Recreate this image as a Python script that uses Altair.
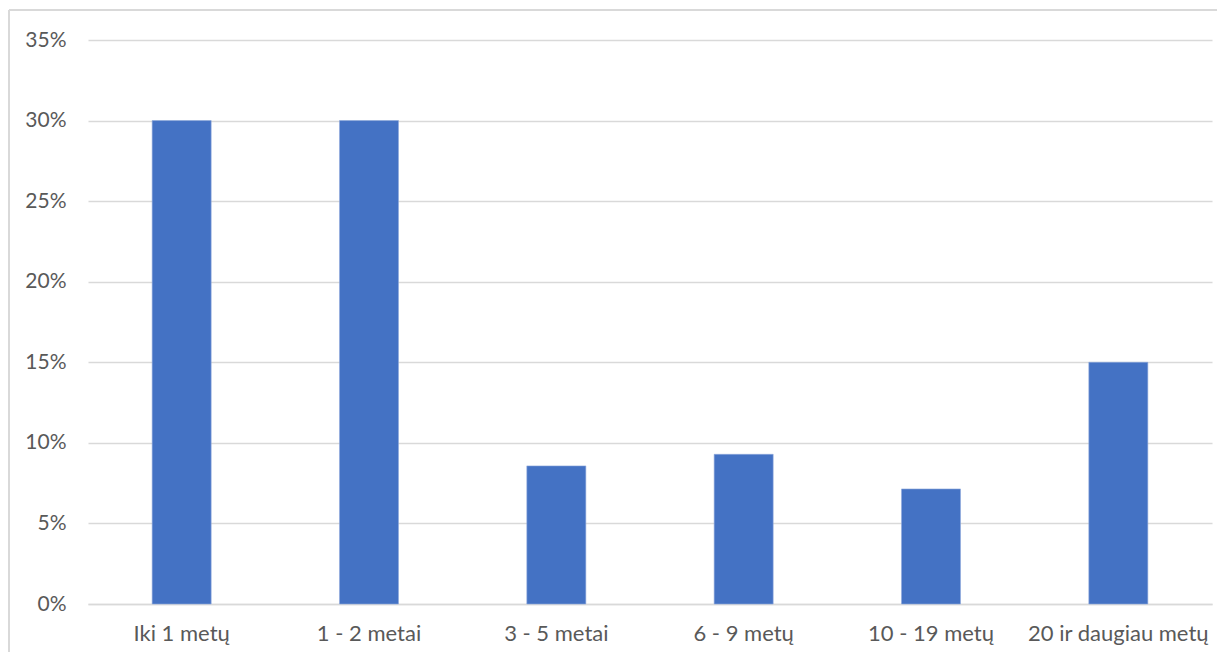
import altair as alt
import pandas as pd

categories = ["Iki 1 metų", "1 - 2 metai", "3 - 5 metai", "6 - 9 metų", "10 - 19 metų", "20 ir daugiau metų"]
values = [0.30, 0.30, 0.0857, 0.0929, 0.0714, 0.15]
y_ticks = [0, 0.05, 0.10, 0.15, 0.20, 0.25, 0.30, 0.35]

df = pd.DataFrame({"cat": categories, "val": values})

W, H = 1124, 564
FONT = "Lato"
TXT = "#595959"

bars = alt.Chart(df).mark_bar(color="#4472c4", stroke="#8fa9dc", strokeWidth=0.6).encode(
    x=alt.X("cat:N", sort=categories, title=None,
            scale=alt.Scale(paddingInner=0.685, paddingOuter=0.3425),
            axis=alt.Axis(labelAngle=0, labelFont=FONT, labelFontSize=22, labelColor=TXT,
                          labelPadding=19, labelLimit=400, ticks=False, domain=True,
                          domainColor="#d9d9d9", domainWidth=1.5, grid=False)),
    y=alt.Y("val:Q", title=None,
            scale=alt.Scale(domain=[0, 0.35], nice=False),
            axis=alt.Axis(values=y_ticks, format=".0%", labelFont=FONT, labelFontSize=21,
                          labelColor=TXT, labelPadding=22, ticks=False, domain=False,
                          grid=True, gridColor="#d9d9d9", gridWidth=1.5)),
)

frame_top = alt.Chart(df).mark_rule(color="#d9d9d9", strokeWidth=1.5, clip=False).encode(
    x=alt.value(-79), x2=alt.value(W + 5), y=alt.value(-30))
frame_left = alt.Chart(df).mark_rule(color="#d9d9d9", strokeWidth=1.5, clip=False).encode(
    x=alt.value(-79), x2=alt.value(-79), y=alt.value(-30), y2=alt.value(H + 80))

chart = alt.layer(bars, frame_top, frame_left).properties(
    width=W, height=H,
    background="white",
    autosize=alt.AutoSizeParams(type="none"),
    padding={"left": 80, "top": 32, "right": 5, "bottom": 48},
).configure_view(stroke=None, strokeWidth=0)

chart.save("out.html", embed_options={"renderer": "svg", "actions": False})
